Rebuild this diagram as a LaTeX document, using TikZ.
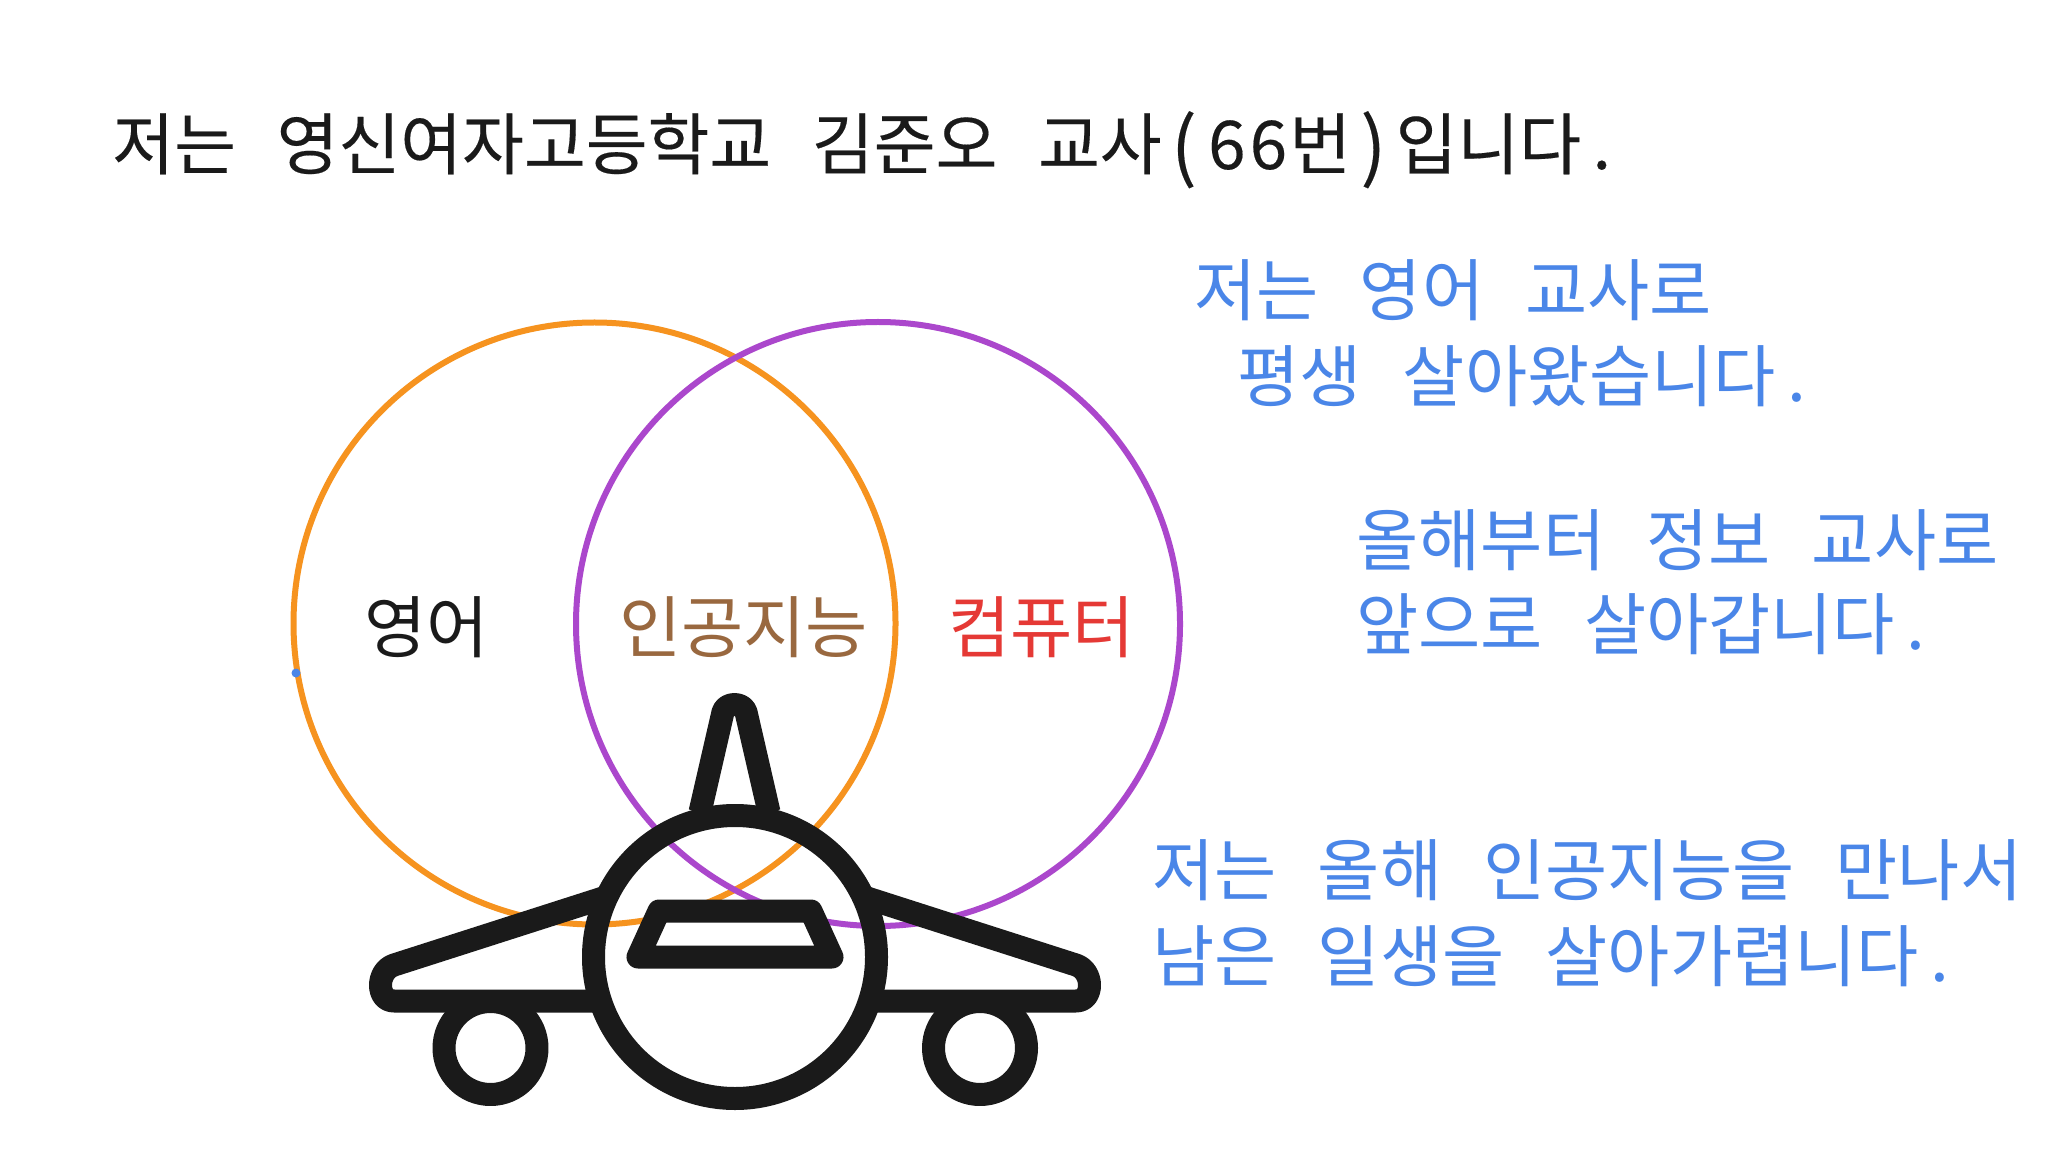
\documentclass[tikz,border=0pt]{standalone}
\usepackage{fontspec}
\setmainfont{Noto Sans CJK KR}[WordSpace=2.72]
\newfontfamily\titlefont{Noto Sans CJK KR}[WordSpace=2.7,FakeBold=0.25]
\definecolor{ink}{HTML}{1A1A1A}
\definecolor{blu}{HTML}{4A86E8}
\definecolor{org}{HTML}{F6931F}
\definecolor{pur}{HTML}{AB47CC}
\definecolor{brn}{HTML}{99683F}
\definecolor{rd}{HTML}{E53935}
\newcommand{\mch}[1]{\makebox[0.62em][c]{#1}}
\newcommand{\bigp}[1]{\makebox[0.66em][c]{\raisebox{-2.2pt}{\fontsize{38pt}{38pt}\selectfont #1}}}
\tikzset{
  txt/.style={inner sep=0pt,anchor=base west,font=\fontsize{33.8pt}{40pt}\selectfont},
  ttl/.style={txt,font=\fontsize{33.6pt}{40pt}\selectfont\titlefont,text=ink},
  ring/.style={line width=3pt},
  plane/.style={draw=ink,line width=11.5pt,line join=round,fill=none},
  bl/.style={txt,text=blu},
}
\begin{document}
\begin{tikzpicture}[x=0.5pt,y=-0.5pt]
\useasboundingbox[fill=white] (0,0) rectangle (2048,1159);
\node[ttl] (title) at (112,169) {저는 영신여자고등학교 김준오 교사\bigp{(}\mch{6}\mch{6}번\bigp{)}입니다\mch{.}};
\node[bl] (a1) at (1194,315.5) {저는 영어 교사로};
\node[bl] (a2) at (1237,401.5) {평생 살아왔습니다\mch{.}};
\node[bl] (b1) at (1356,565.5) {올해부터 정보 교사로};
\node[bl] (b2) at (1356,649.5) {앞으로 살아갑니다\mch{.}};
\node[bl] (c1) at (1152,895.5) {저는 올해 인공지능을 만나서};
\node[bl] (c2) at (1152,981.5) {남은 일생을 살아가렵니다\mch{.}};
\draw[ring,draw=org] (594.5,623.5) circle (301);
\draw[ring,draw=pur] (878,624) circle (302);
\node[txt,text=ink] (en) at (364,652) {영어};
\node[txt,text=brn] (ai) at (619,652) {인공지능};
\node[txt,text=rd] (cs) at (948,652) {컴퓨터};
\fill[blu] (296,673) circle (4.5);
% plane
\draw[plane] (735,957) circle (141.5);
\draw[plane] (490.5,1048) circle (46.5);
\draw[plane] (980,1048) circle (46.5);
\draw[plane] (700,812) -- (723,712) .. controls (726,702) and (743,702) .. (746,712) -- (769,812);
\draw[plane] (606,897) -- (394,965) .. controls (376,971) and (376,1001) .. (394,1001) -- (598,1001);
\draw[plane] (864,897) -- (1076,965) .. controls (1094,971) and (1094,1001) .. (1076,1001) -- (872,1001);
\draw[plane] (659,911) -- (811,911) -- (832,957) -- (638,957) -- cycle;
\end{tikzpicture}
\end{document}
